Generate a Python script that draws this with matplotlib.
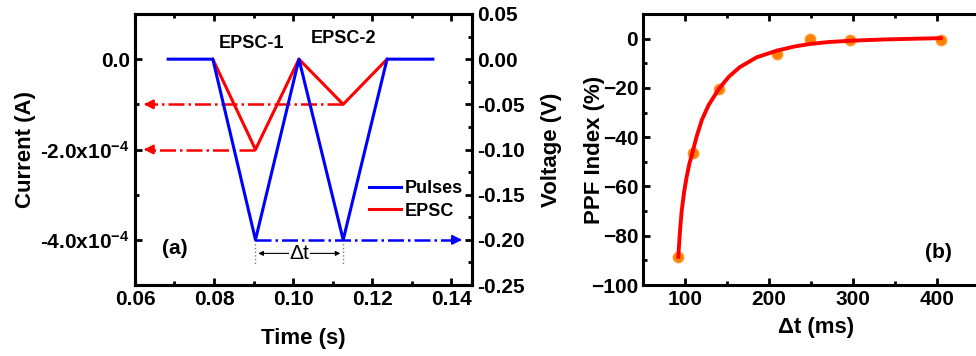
import numpy as np
import matplotlib
matplotlib.use('Agg')
import matplotlib.pyplot as plt
from matplotlib.ticker import MultipleLocator

plt.rcParams['font.family'] = ['Liberation Sans', 'DejaVu Sans']
plt.rcParams['font.weight'] = 'bold'
plt.rcParams['axes.labelweight'] = 'bold'
plt.rcParams['mathtext.fontset'] = 'custom'
plt.rcParams['mathtext.rm'] = 'Liberation Sans:bold'
plt.rcParams['mathtext.bf'] = 'Liberation Sans:bold'
plt.rcParams['mathtext.default'] = 'regular'

# (a) pulse / EPSC traces
t_pulse = [0.0684, 0.0797, 0.0905, 0.1015, 0.1127, 0.1238, 0.1354]
i_pulse = [0.0, 0.0, -4e-4, 0.0, -4e-4, 0.0, 0.0]
t_epsc = [0.0797, 0.0905, 0.1015, 0.1127, 0.1238]
i_epsc = [0.0, -2e-4, 0.0, -1e-4, 0.0]

# (b) PPF index
dt_ms = [92, 109, 140, 209, 248, 296, 404]
ppf = [-88.8, -46.4, -20.6, -6.2, -0.1, -0.5, -0.5]
fit_dt = [92, 94, 96, 99, 102, 105, 109, 114, 120, 128, 140, 152, 165, 185, 209, 230, 248, 270, 300, 340, 404]
fit_ppf = [-88.5, -78, -70, -62, -56, -51, -46, -39.5, -33, -27, -20.5, -15.5, -11.6, -7.6, -4.9, -3.2, -2.2, -1.4, -0.8, -0.3, 0.2]

fig = plt.figure(figsize=(9.76, 3.56), dpi=100)
ax1 = fig.add_axes([0.1383, 0.1994, 0.3453, 0.7613])
ax3 = fig.add_axes([0.6588, 0.1994, 0.3550, 0.7613])

def style(ax):
    for s in ax.spines.values():
        s.set_linewidth(2.2)
    ax.tick_params(which='both', direction='in', width=2, labelsize=15)
    ax.tick_params(which='major', length=5)
    ax.tick_params(which='minor', length=3)

# ---------------- panel (a)
ax1.plot(t_epsc, i_epsc, color='red', lw=2.2, label='EPSC', zorder=3)
ax1.plot(t_pulse, i_pulse, color='#0000FF', lw=2.2, label='Pulses', zorder=4)

# dash-dot guides with arrowheads
red_tip = 0.0615
for tx, iy in [(t_epsc[1], i_epsc[1]), (t_epsc[3], i_epsc[3])]:
    ax1.plot([tx, red_tip + 0.002], [iy, iy], color='red', lw=1.8, ls='-.', zorder=2)
    ax1.annotate('', xy=(red_tip, iy), xytext=(red_tip + 0.0025, iy),
                 arrowprops=dict(arrowstyle='-|>', color='red', lw=1.5, mutation_scale=14))
blue_tip = 0.1435
ax1.plot([t_pulse[2], blue_tip - 0.002], [-4e-4, -4e-4], color='#0000FF', lw=1.8, ls='-.', zorder=2)
ax1.annotate('', xy=(blue_tip, -4e-4), xytext=(blue_tip - 0.0025, -4e-4),
             arrowprops=dict(arrowstyle='-|>', color='#0000FF', lw=1.5, mutation_scale=14))

# delta t marker
for tx in [t_pulse[2], t_pulse[4]]:
    ax1.plot([tx, tx], [-4e-4, -4.55e-4], color='gray', lw=1, ls=':')
ax1.annotate('', xy=(t_pulse[2], -4.3e-4), xytext=(t_pulse[4], -4.3e-4),
             arrowprops=dict(arrowstyle='<|-|>', color='black', lw=0.8, mutation_scale=7))
ax1.text((t_pulse[2] + t_pulse[4]) / 2, -4.3e-4, 'Δt', ha='center', va='center',
         fontsize=15, fontweight='normal', bbox=dict(fc='white', ec='none', pad=0.5))

ax1.text(0.0896, 0.15e-4, 'EPSC-1', ha='center', va='bottom', fontsize=13)
ax1.text(0.1127, 0.27e-4, 'EPSC-2', ha='center', va='bottom', fontsize=13)
ax1.text(0.0702, -4.2e-4, '(a)', ha='center', va='center', fontsize=15)

ax1.set_xlim(0.06, 0.1453)
ax1.set_ylim(-5e-4, 1e-4)
ax1.set_xticks([0.06, 0.08, 0.10, 0.12, 0.14])
ax1.set_xticklabels(['0.06', '0.08', '0.10', '0.12', '0.14'])
ax1.xaxis.set_minor_locator(MultipleLocator(0.01))
ax1.set_yticks([0.0, -2e-4, -4e-4])
ax1.set_yticklabels(['0.0', r'-2.0x10$^{-4}$', r'-4.0x10$^{-4}$'])
ax1.yaxis.set_minor_locator(MultipleLocator(1e-4))
style(ax1)
ax1.tick_params(which='both', top=True)
ax1.set_xlabel('Time (s)', fontsize=16, labelpad=14)
ax1.set_ylabel('Current (A)', fontsize=16, labelpad=3)

h, l = ax1.get_legend_handles_labels()
ax1.legend(h[::-1], l[::-1], loc='upper left', bbox_to_anchor=(0.685, 0.40), frameon=False,
           fontsize=13, handlelength=1.75, handletextpad=0.2, labelspacing=0.3,
           borderpad=0.2, borderaxespad=0)

ax2 = ax1.twinx()
ax2.set_ylim(-0.25, 0.05)
ax2.yaxis.set_minor_locator(MultipleLocator(0.025))
ax2.set_yticks([0.05, 0.0, -0.05, -0.10, -0.15, -0.20, -0.25])
ax2.set_yticklabels(['0.05', '0.00', '-0.05', '-0.10', '-0.15', '-0.20', '-0.25'])
style(ax2)
ax2.set_ylabel('Voltage (V)', fontsize=16, labelpad=12)

# ---------------- panel (b)
ax3.plot(dt_ms, ppf, 'o', color='#FF8000', ms=7.5, mec='#FF9A30', mew=1, zorder=3)
ax3.plot(fit_dt, fit_ppf, color='red', lw=2.8, zorder=4)
ax3.text(401, -87, '(b)', ha='center', va='center', fontsize=15)
ax3.set_xlim(50, 462)
ax3.set_ylim(-100, 10)
ax3.set_xticks([100, 200, 300, 400])
ax3.xaxis.set_minor_locator(MultipleLocator(50))
ax3.set_yticks([0, -20, -40, -60, -80, -100])
ax3.yaxis.set_minor_locator(MultipleLocator(10))
style(ax3)
ax3.tick_params(which='both', top=True)
ax3.set_xlabel('Δt (ms)', fontsize=16, labelpad=6)
ax3.set_ylabel('PPF Index (%)', fontsize=16, labelpad=-10)

fig.savefig('out.png', dpi=100)
